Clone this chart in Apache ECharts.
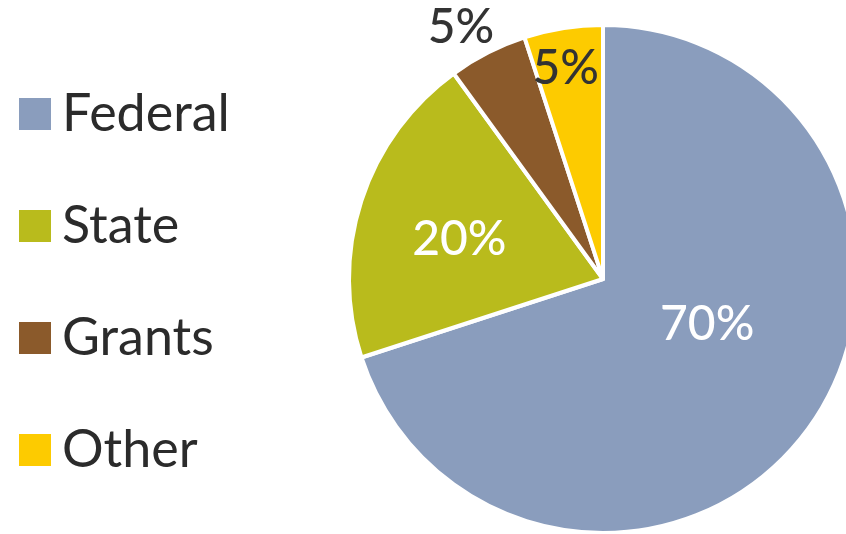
<!DOCTYPE html>
<html>
<head>
<meta charset="utf-8">
<script src="https://cdn.jsdelivr.net/npm/echarts@6/dist/echarts.min.js"></script>
<style>
  html, body { margin: 0; padding: 0; background: #fff; }
  #main { width: 846px; height: 534px; }
</style>
</head>
<body>
<div id="main"></div>
<script>
// funding sources
const categories = ['Federal', 'State', 'Grants', 'Other'];
const shares = [70, 20, 5, 5];
const colors = ['#8a9dbd', '#b9bb1c', '#8b5a2b', '#fdcb00'];
const labelColors = ['#fff', '#fff', '#333', '#333'];
// nudge of each label away from the default inside spot
const labelShift = [[-1, -31], [-20, 1], [-83, -136], [-17, -82]];

const chart = echarts.init(document.getElementById('main'));

chart.setOption({
  animation: false,
  legend: {
    orient: 'vertical',
    left: 17,
    top: 88,
    height: 440,
    padding: 0,
    icon: 'rect',
    itemWidth: 34,
    itemHeight: 34,
    itemGap: 60,
    selectedMode: false,
    data: categories,
    textStyle: {
      fontFamily: 'Lato',
      fontSize: 52,
      color: '#2b2b2b',
      padding: [0, 0, 0, 5]
    }
  },
  series: [{
    type: 'pie',
    center: [603, 279],
    radius: 254,
    startAngle: 90,
    clockwise: true,
    itemStyle: {
      borderColor: '#fff',
      borderWidth: 4
    },
    label: {
      position: 'inside',
      formatter: '{c}%',
      fontFamily: 'Lato',
      fontSize: 48,
      fontWeight: 500
    },
    labelLine: { show: false },
    labelLayout: function (params) {
      const s = labelShift[params.dataIndex];
      return { dx: s[0], dy: s[1] };
    },
    data: categories.map(function (name, i) {
      return {
        name: name,
        value: shares[i],
        itemStyle: { color: colors[i] },
        label: { color: labelColors[i] }
      };
    })
  }]
});
</script>
</body>
</html>
